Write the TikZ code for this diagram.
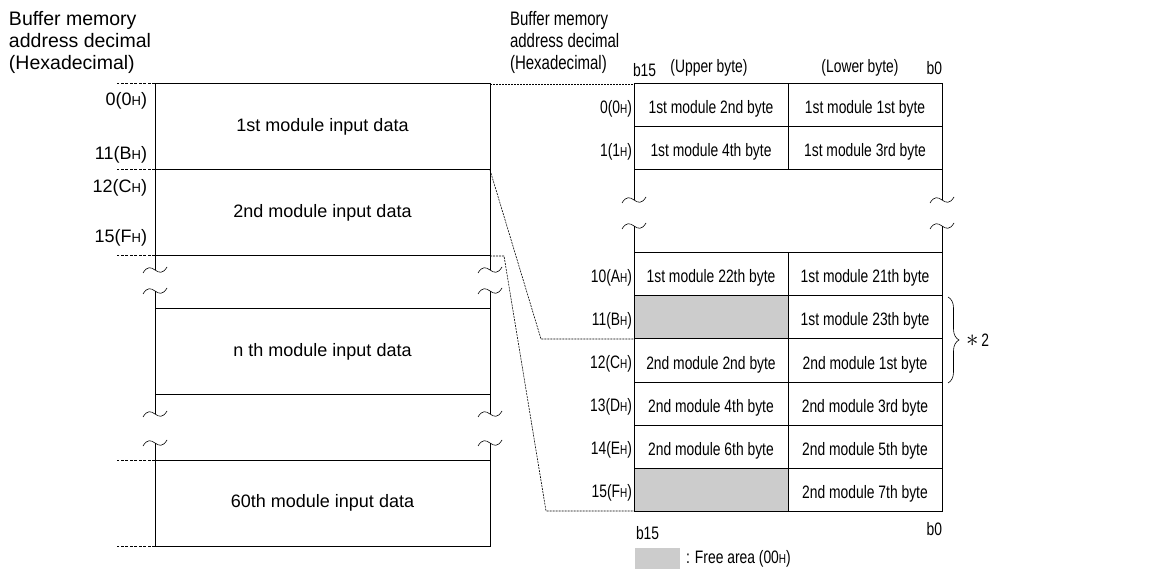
\documentclass[tikz,border=0pt]{standalone}
\usepackage{fontspec}
\setmainfont{Liberation Sans}
\newfontfamily\narrowfont{Liberation Sans}[FakeStretch=0.77]
\usetikzlibrary{decorations.pathreplacing}
\definecolor{freegray}{RGB}{204,204,204}
\newcommand\hx{{\fontsize{13}{13}\selectfont H}}

\begin{document}
\begin{tikzpicture}[x=1pt,y=-1pt,
    every node/.style={font=\fontsize{18}{22}\selectfont, inner sep=0pt, outer sep=0pt},
    narrow/.style={font=\fontsize{18}{22}\selectfont\narrowfont},
    hdtext/.style={anchor=north west, align=left, font=\fontsize{19.5}{22}\selectfont},
    frame/.style={line width=1pt},
    blk/.style={frame, draw, rectangle, anchor=north west,
        minimum width=335pt, minimum height=86pt},
    cell/.style={frame, draw, rectangle, anchor=north west, narrow,
        minimum width=154pt, minimum height=43pt, text height=17pt, text depth=0pt},
    adr/.style={anchor=east},
    radr/.style={narrow, anchor=east},
    stub/.style={line width=1pt, dash pattern=on 3pt off 1.5pt},
    link/.style={line width=0.6pt, dash pattern=on 2pt off 1pt},
    brk/.pic={\draw[line width=0.6pt] (-12,3) .. controls (-8,-4) and (-4,-3) .. (0,0)
                 .. controls (4,3) and (8,4) .. (12,-3);}]
  \useasboundingbox (0,0) rectangle (1154,569);

  % left side: whole buffer memory
  \node[hdtext] (hdl) at (9,11)
       {Buffer memory\\address decimal\\(Hexadecimal)};
  \node[blk] (m1) at (155,84) {1st module input data};
  \node[blk] (m2) at (155,170) {2nd module input data};
  \node[blk, minimum height=85pt] (mn) at (155,309) {n th module input data};
  \node[blk] (m60) at (155,460) {60th module input data};
  \foreach \a in {m2.south west, m2.south east}
    \draw[frame] (\a) -- ++(0,14) pic {brk} ++(0,21) pic {brk} -- ++(0,18);
  \foreach \a in {mn.south west, mn.south east}
    \draw[frame] (\a) -- ++(0,20) pic {brk} ++(0,29) pic {brk} -- ++(0,17);
  \foreach \a in {m1.north west, m1.south west, m2.south west, m60.north west, m60.south west}
    \draw[stub] (\a) -- ++(-38,0);
  \node[adr] (a0) at (147,101) {0(0\hx)};
  \node[adr] (a11) at (147,155) {11(B\hx)};
  \node[adr] (a12) at (147,188) {12(C\hx)};
  \node[adr] (a15) at (147,238) {15(F\hx)};

  % right side: word layout
  \node[hdtext, font=\fontsize{19.5}{22}\selectfont\narrowfont] (hdr) at (510,11)
       {Buffer memory\\address decimal\\(Hexadecimal)};
  \node[narrow, anchor=west] (b15t) at (633,70) {b15};
  \node[narrow] (upb) at (709,68) {(Upper byte)};
  \node[narrow] (lob) at (860,68) {(Lower byte)};
  \node[narrow, anchor=east] (b0t) at (942,68) {b0};
  \foreach \y/\ad/\fc/\up/\lo [count=\i] in {
      84/0(0\hx)/white/1st module 2nd byte/1st module 1st byte,
      127/1(1\hx)/white/1st module 4th byte/1st module 3rd byte,
      253/10(A\hx)/white/1st module 22th byte/1st module 21th byte,
      296/11(B\hx)/freegray//1st module 23th byte,
      339/12(C\hx)/white/2nd module 2nd byte/2nd module 1st byte,
      382/13(D\hx)/white/2nd module 4th byte/2nd module 3rd byte,
      425/14(E\hx)/white/2nd module 6th byte/2nd module 5th byte,
      468/15(F\hx)/freegray//2nd module 7th byte}
  {
    \node[cell, fill=\fc] (u\i) at (634,\y) {\up};
    \node[cell] (l\i) at (788,\y) {\lo};
    \node[radr] (r\i) at ([xshift=-2pt,yshift=-3pt]u\i.west) {\ad};
  }
  \foreach \a in {u2.south west, l2.south east}
    \draw[frame] (\a) -- ++(0,30) pic {brk} ++(0,26) pic {brk} -- ++(0,27);

  % connections
  \coordinate (k1) at (541,339);
  \coordinate (k2) at (504,256);
  \coordinate (k3) at (546,511);
  \draw[link] (m1.north east) -- (u1.north west);
  \draw[link] (m1.south east) -- (k1) -- (u5.north west);
  \draw[link] (m2.south east) -- (k2) -- (k3) -- (u8.south west);

  \draw[decorate, decoration={brace, amplitude=11pt}, line width=0.6pt]
       (948,297) -- (948,383);
  \node[narrow, anchor=west] (n2) at (966,340) {{\fontsize{26}{26}\selectfont$\ast$}\,2};

  \node[narrow, anchor=west] (b15b) at (636,533) {b15};
  \node[narrow, anchor=east] (b0b) at (942,529) {b0};
  \node[fill=freegray, minimum width=45pt, minimum height=22pt, anchor=north west] (fk) at (635,548) {};
  \node[narrow, anchor=west] (fa) at ([xshift=6pt]fk.east) {: Free area (00\hx)};
\end{tikzpicture}
\end{document}
